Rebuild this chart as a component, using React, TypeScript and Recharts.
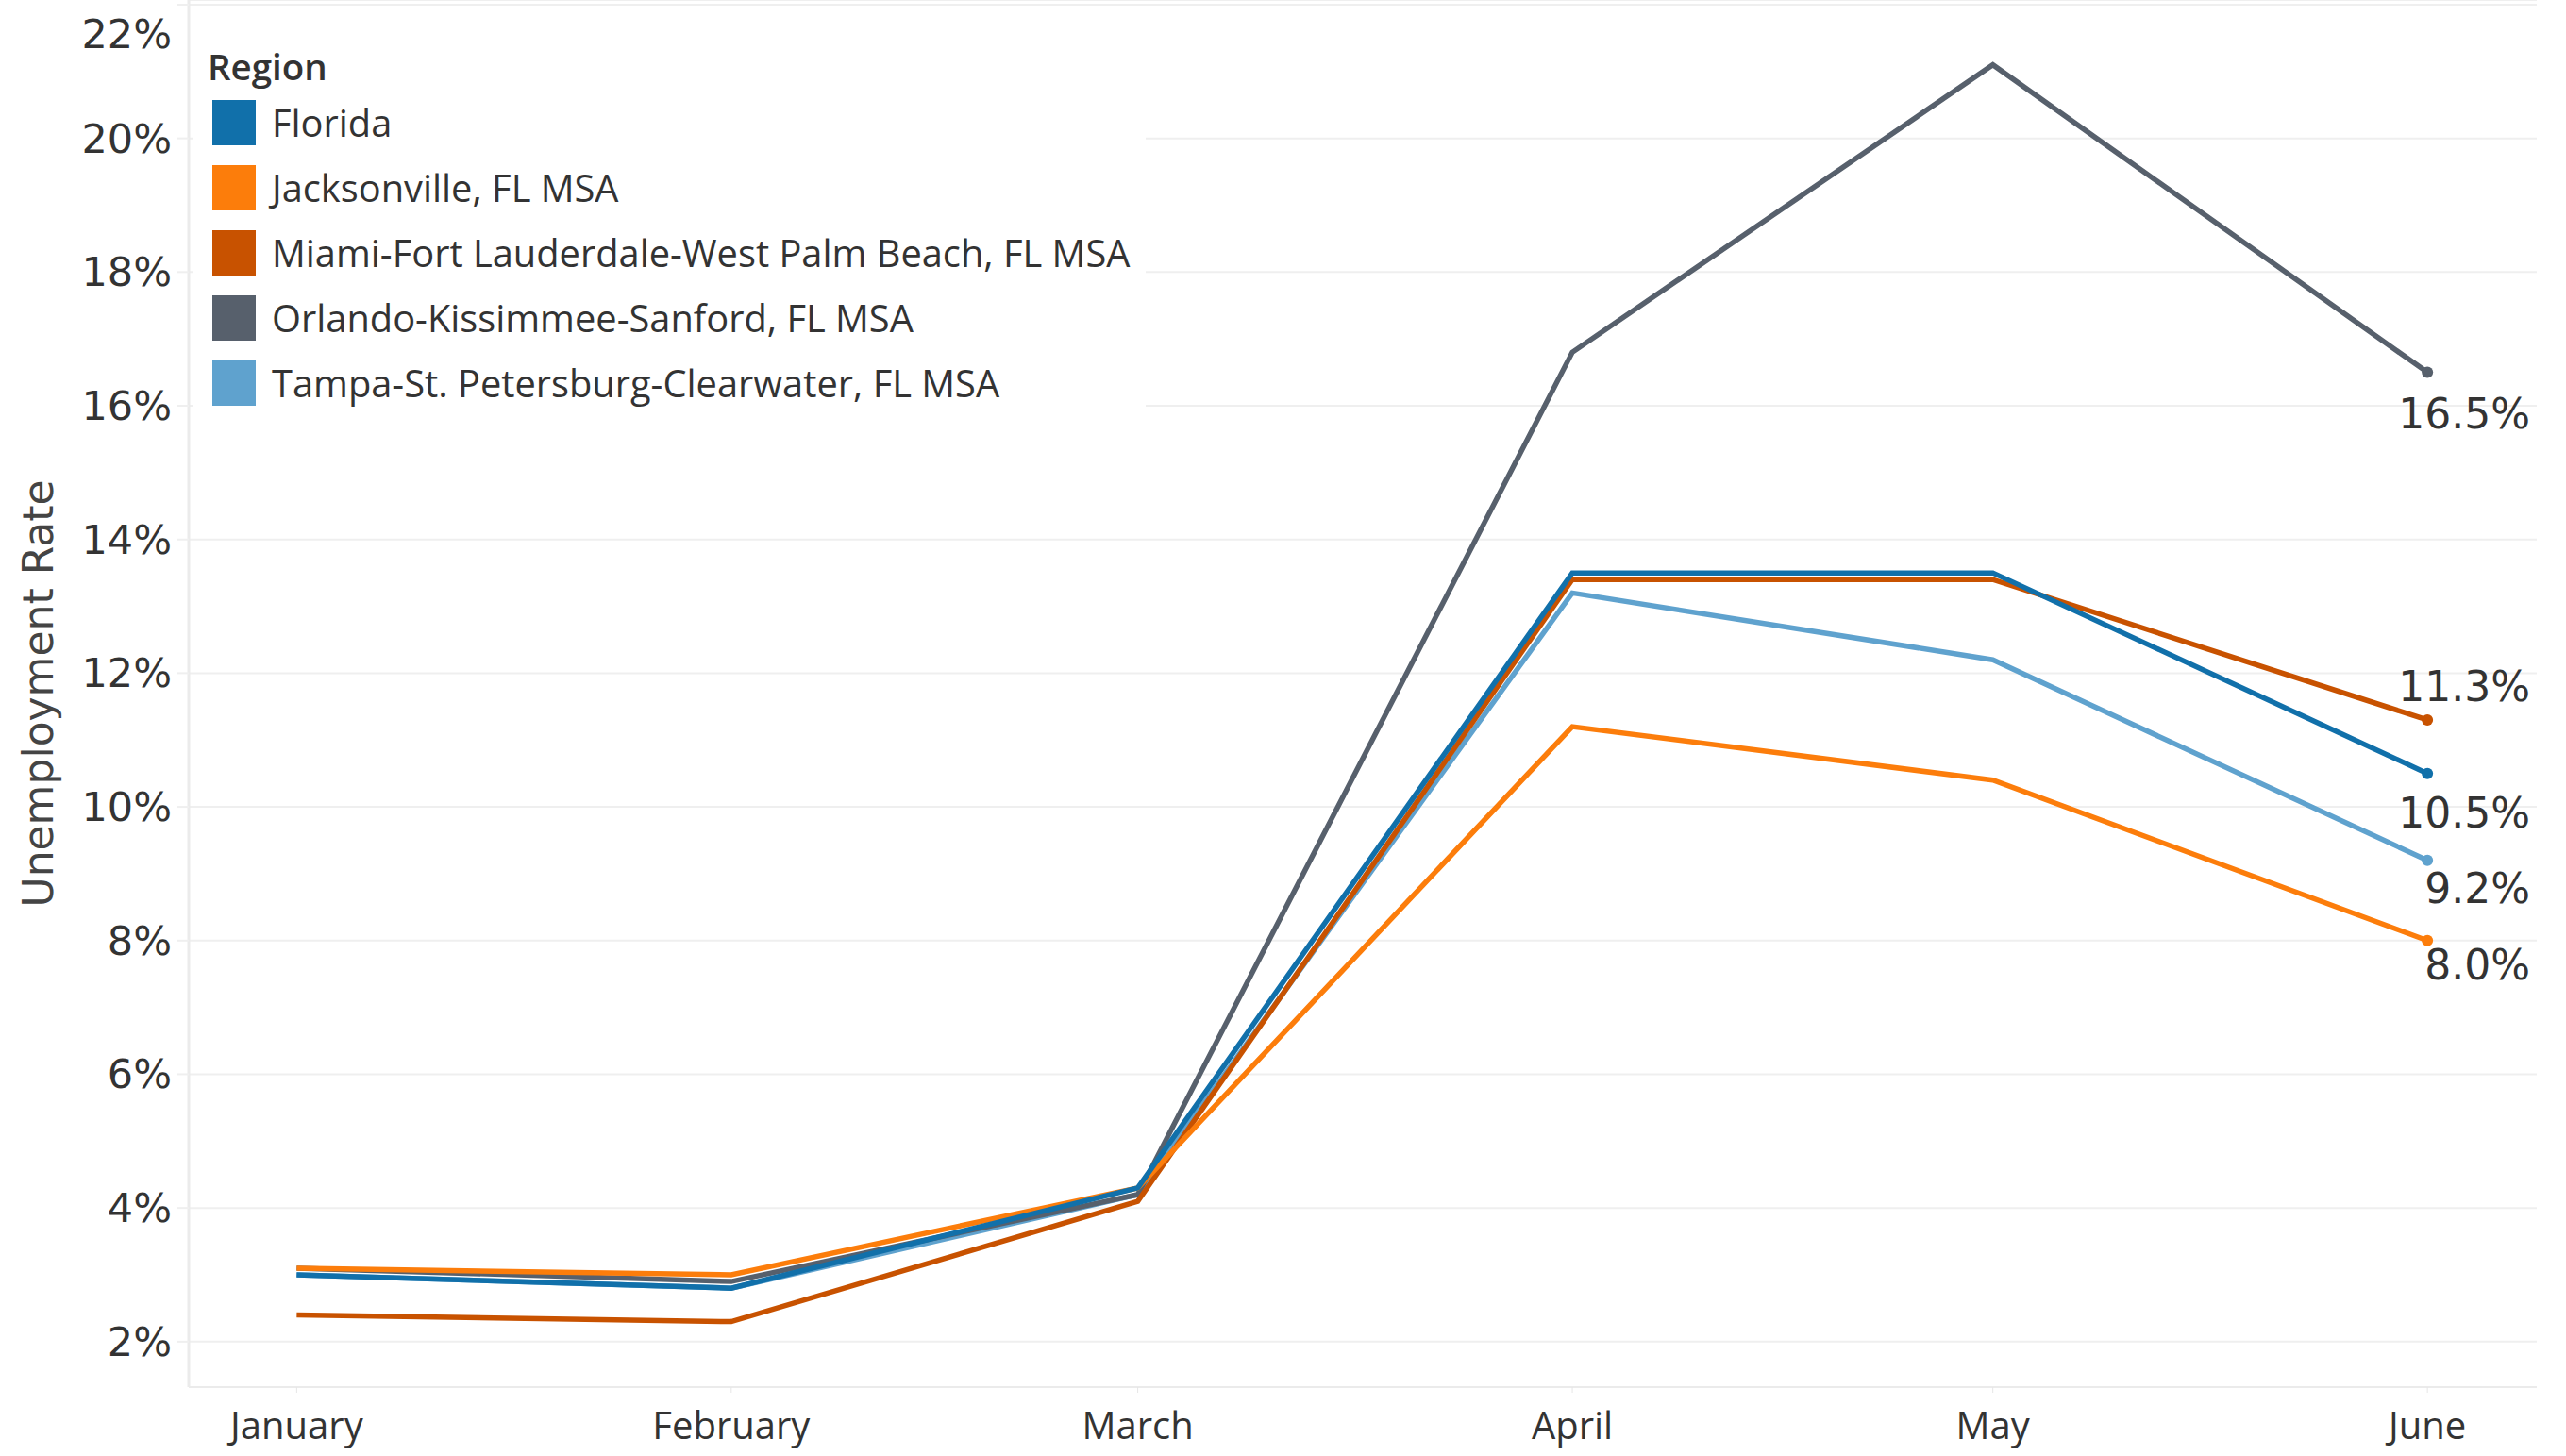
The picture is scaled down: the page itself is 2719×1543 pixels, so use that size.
import React from 'react';
import { LineChart, Line, XAxis, YAxis, CartesianGrid, LabelList, Label } from 'recharts';

// ---- data ----
const monthNames = ['January', 'February', 'March', 'April', 'May', 'June'];
const monthDays = [0, 31, 60, 91, 121, 152]; // days since Jan 1, 2020 (first of each month)
const florida = [3.0, 2.8, 4.3, 13.5, 13.5, 10.5];
const jacksonville = [3.1, 3.0, 4.3, 11.2, 10.4, 8.0];
const miami = [2.4, 2.3, 4.1, 13.4, 13.4, 11.3];
const orlando = [3.1, 2.9, 4.2, 16.8, 21.1, 16.5];
const tampa = [3.0, 2.8, 4.2, 13.2, 12.2, 9.2];
const yTicks = [2, 4, 6, 8, 10, 12, 14, 16, 18, 20, 22];

const rows = monthDays.map((d, i) => ({
  day: d,
  florida: florida[i],
  jacksonville: jacksonville[i],
  miami: miami[i],
  orlando: orlando[i],
  tampa: tampa[i],
}));

// ---- styling ----
const legendOrder = [
  { key: 'florida', name: 'Florida', color: '#1170aa', dy: 42 },
  { key: 'jacksonville', name: 'Jacksonville, FL MSA', color: '#fc7d0b', dy: 26 },
  { key: 'miami', name: 'Miami-Fort Lauderdale-West Palm Beach, FL MSA', color: '#c85200', dy: -35 },
  { key: 'orlando', name: 'Orlando-Kissimmee-Sanford, FL MSA', color: '#57606c', dy: 44 },
  { key: 'tampa', name: 'Tampa-St. Petersburg-Clearwater, FL MSA', color: '#5fa2ce', dy: 30 },
];
const drawOrder = ['tampa', 'orlando', 'miami', 'jacksonville', 'florida'];

const TEXT = '#333333';
const NUM_FONT = '"DejaVu Sans", Verdana, sans-serif';
const WORD_FONT = '"Open Sans", Roboto, sans-serif';
const LAST = monthDays.length - 1;

const YTick = (props: any) => {
  const { x, y, payload } = props;
  const cy = Math.max(y, 36);
  return (
    <text x={x} y={cy} textAnchor="end" dominantBaseline="central" fontFamily={NUM_FONT} fontSize={43} fill={TEXT}>
      {payload.value}%
    </text>
  );
};

const XTick = (props: any) => {
  const { x, y, payload } = props;
  const idx = monthDays.indexOf(payload.value);
  return (
    <text x={x} y={y + 49} textAnchor="middle" fontFamily={WORD_FONT} fontSize={40} fill={TEXT}>
      {idx >= 0 ? monthNames[idx] : ''}
    </text>
  );
};

const makeEndLabel = (dy: number) => (props: any) => {
  const { x, y, value, index } = props;
  if (index !== LAST || x == null || y == null) return null;
  return (
    <text x={x + 109} y={y + dy} textAnchor="end" dominantBaseline="central" fontFamily={NUM_FONT} fontSize={44} fill={TEXT}>
      {Number(value).toFixed(1)}%
    </text>
  );
};

const makeDot = (color: string) => (props: any) => {
  const { cx, cy, index } = props;
  if (index !== LAST) return <g key={`d-${index}`} />;
  return <circle key={`d-${index}`} cx={cx} cy={cy} r={6} fill={color} />;
};

const AxisTitle = (props: any) => {
  const vb = props.viewBox || {};
  const cy = (vb.y || 0) + (vb.height || 0) / 2;
  const cx = 40;
  return (
    <text x={cx} y={cy} transform={`rotate(-90 ${cx} ${cy})`} textAnchor="middle" dominantBaseline="central" fontFamily={NUM_FONT} fontSize={44} fill="#444">
      Unemployment Rate
    </text>
  );
};

const LegendBox = () => (
  <div
    style={{
      position: 'absolute',
      left: 205,
      top: 20,
      width: 1009,
      height: 430,
      background: '#ffffff',
      fontFamily: WORD_FONT,
      color: TEXT,
    }}
  >
    <div style={{ position: 'absolute', left: 15, top: 26, height: 48, lineHeight: '48px', fontSize: 38.5, fontWeight: 600 }}>Region</div>
    {legendOrder.map((s, i) => (
      <div
        key={s.key}
        style={{ position: 'absolute', left: 20, top: 86 + i * 69, height: 48, display: 'flex', alignItems: 'center', whiteSpace: 'nowrap' }}
      >
        <span style={{ display: 'inline-block', width: 46, height: 48, background: s.color, marginRight: 17 }} />
        <span style={{ fontSize: 39.8, lineHeight: '48px' }}>{s.name}</span>
      </div>
    ))}
  </div>
);

export default function App() {
  return (
    <div style={{ position: 'absolute', left: 0, top: 0, width: 2719, height: 1543, background: '#fff' }}>
      <LineChart width={2719} height={1543} data={rows} margin={{ top: 0, right: 31, bottom: 0, left: 0 }}>
        <CartesianGrid horizontal vertical={false} stroke="#efefef" strokeWidth={2} />
        <XAxis
          dataKey="day"
          type="number"
          domain={[-7.7, 159.8]}
          allowDataOverflow
          ticks={monthDays}
          interval={0}
          height={73}
          tickSize={6}
          tickMargin={0}
          tickLine={{ stroke: '#e6e6e6' }}
          axisLine={{ stroke: '#ebebeb', strokeWidth: 2 }}
          tick={<XTick />}
        />
        <YAxis
          type="number"
          domain={[1.32, 22.07]}
          allowDataOverflow
          ticks={yTicks}
          interval={0}
          width={200}
          tickSize={12}
          tickMargin={6}
          tickLine={{ stroke: '#efefef', strokeWidth: 2 }}
          axisLine={{ stroke: '#ebebeb', strokeWidth: 3 }}
          tick={<YTick />}
        >
          <Label content={<AxisTitle />} />
        </YAxis>
        {drawOrder.map((k) => {
          const s = legendOrder.find((o) => o.key === k)!;
          return (
            <Line
              key={k}
              dataKey={k}
              name={s.name}
              type="linear"
              stroke={s.color}
              strokeWidth={5.5}
              dot={makeDot(s.color)}
              activeDot={false}
              isAnimationActive={false}
            >
              <LabelList dataKey={k} content={makeEndLabel(s.dy)} />
            </Line>
          );
        })}
      </LineChart>
      <LegendBox />
    </div>
  );
}
